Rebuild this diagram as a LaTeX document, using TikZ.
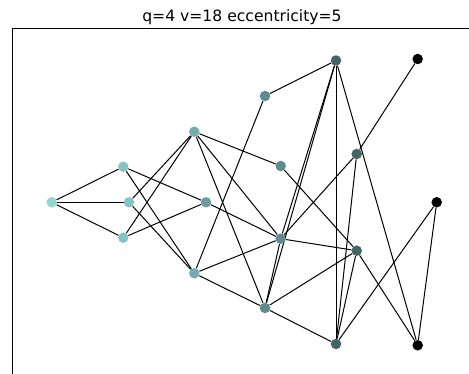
\documentclass[tikz,border=0pt]{standalone}
\usepackage{fontspec}
\setmainfont{DejaVu Sans}
\usetikzlibrary{backgrounds}

\definecolor{lvl0}{HTML}{95D5D4}
\definecolor{lvl1}{HTML}{86C3C3}
\definecolor{lvl2}{HTML}{75ADAD}
\definecolor{lvl2b}{HTML}{6C9C9C}
\definecolor{lvl3}{HTML}{5E8C8C}
\definecolor{lvl4}{HTML}{456565}

\begin{document}
\begin{tikzpicture}[x=1pt,y=-1pt,line cap=round,
  vtx/.style={circle,inner sep=0pt,minimum size=10.5pt},
  edge/.style={line width=1pt}]
  \useasboundingbox (0,0) rectangle (469,374);
  \node[font=\fontsize{15.6}{18}\selectfont,anchor=base] (title) at (242,22) {q=4 v=18 eccentricity=5};
  \draw[line width=1pt] (12,374) -- (12,29) -- (469,29);

  \node[vtx,fill=lvl0] (r) at (51.7,202.3) {};
  \node[vtx,fill=lvl1] (a1) at (123.3,166.7) {};
  \node[vtx,fill=lvl1] (a2) at (129,202.3) {};
  \node[vtx,fill=lvl1] (a3) at (123.3,237.7) {};
  \node[vtx,fill=lvl2] (b1) at (194.3,131.7) {};
  \node[vtx,fill=lvl2b] (b2) at (206,202.3) {};
  \node[vtx,fill=lvl2] (b3) at (194.3,273.3) {};
  \node[vtx,fill=lvl3] (c1) at (265,96) {};
  \node[vtx,fill=lvl3] (c2) at (280.7,166) {};
  \node[vtx,fill=lvl3] (c3) at (280.7,238.7) {};
  \node[vtx,fill=lvl3] (c4) at (265,308) {};
  \node[vtx,fill=lvl4] (d1) at (336,60.5) {};
  \node[vtx,fill=lvl4] (d2) at (356.7,154) {};
  \node[vtx,fill=lvl4] (d3) at (356.7,250.7) {};
  \node[vtx,fill=lvl4] (d4) at (336,344) {};
  \node[vtx,fill=black] (e1) at (417.7,59) {};
  \node[vtx,fill=black] (e2) at (436.7,202.3) {};
  \node[vtx,fill=black] (e3) at (417.7,345.3) {};

  \begin{pgfonlayer}{background}
  \draw[edge] (r) -- (a1);
  \draw[edge] (r) -- (a2);
  \draw[edge] (r) -- (a3);
  \draw[edge] (a1) -- (b2);
  \draw[edge] (a1) -- (b3);
  \draw[edge] (a2) -- (b1);
  \draw[edge] (a2) -- (b3);
  \draw[edge] (a3) -- (b1);
  \draw[edge] (a3) -- (b2);
  \draw[edge] (b1) -- (c2);
  \draw[edge] (b1) -- (c3);
  \draw[edge] (b1) -- (c4);
  \draw[edge] (b2) -- (c3);
  \draw[edge] (b3) -- (c1);
  \draw[edge] (b3) -- (c3);
  \draw[edge] (b3) -- (c4);
  \draw[edge] (c1) -- (d1);
  \draw[edge] (c2) -- (d3);
  \draw[edge] (c3) -- (c4);
  \draw[edge] (c3) -- (d1);
  \draw[edge] (c3) -- (d2);
  \draw[edge] (c3) -- (d3);
  \draw[edge] (c4) -- (d1);
  \draw[edge] (c4) -- (d3);
  \draw[edge] (c4) -- (d4);
  \draw[edge] (d1) -- (d4);
  \draw[edge] (d1) -- (e3);
  \draw[edge] (d2) -- (d4);
  \draw[edge] (d2) -- (e1);
  \draw[edge] (d3) -- (d4);
  \draw[edge] (d3) -- (e3);
  \draw[edge] (d4) -- (e2);
  \draw[edge] (e2) -- (e3);
  \end{pgfonlayer}
\end{tikzpicture}
\end{document}
